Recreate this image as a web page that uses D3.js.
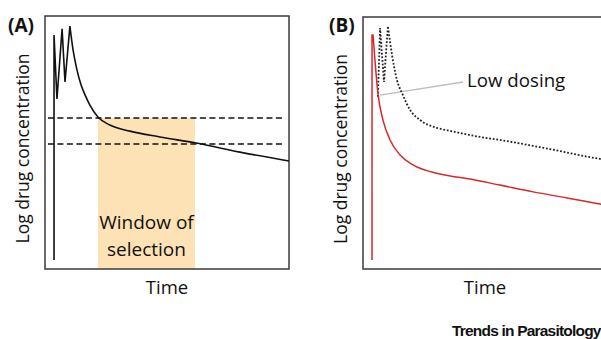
<!DOCTYPE html>
<html>
<head>
<meta charset="utf-8">
<script src="https://cdn.jsdelivr.net/npm/d3@7"></script>
<style>
  body { margin: 0; background: #fff; }
  text { font-family: 'Open Sans', sans-serif; fill: #111; }
</style>
</head>
<body>
<div id="svg"></div>
<script>
// Panel A: one drug, curve over time (time and log concentration in 0..100 units)
const timeA = [3.7, 3.7, 4.9, 7.0, 8.2, 10.2, 11.5, 13.1, 14.8, 16.4, 18.4, 21.7, 26.6, 34.8, 47.1, 61.9, 79.9, 100]
const concA = [3.6, 92.5, 67.2, 94.9, 73.9, 96.0, 86.6, 78.7, 72.7, 68.8, 64.8, 60.1, 56.9, 54.5, 52.2, 49.8, 46.2, 42.7]
const thresholds = [59.7, 49.4]
const selectionWindow = [21.7, 61.5]

// Panel B: single dose (red) vs low dosing (dotted)
const timeRed = [3.7, 3.7, 4.1, 4.9, 6.1, 8.2, 11.1, 15.2, 20.5, 31.6, 43.9, 56.1, 69.7, 83.6, 97.1, 100]
const concRed = [3.6, 92.9, 92.9, 82.9, 69.8, 59.1, 51.2, 45.2, 41.3, 37.7, 35.7, 33.3, 30.6, 28.2, 25.8, 25.2]
const timeLow = [6.1, 7.0, 8.6, 10.2, 11.9, 13.9, 16.0, 19.3, 23.4, 30.3, 35.7, 48.0, 56.1, 76.6, 97.1, 100]
const concLow = [68.3, 95.6, 74.2, 96.4, 84.9, 75.0, 69.8, 63.1, 59.1, 56.0, 54.8, 52.4, 51.2, 47.6, 43.7, 43.3]
const pointer = [[7.0, 69.0], [41.0, 74.2]]

const width = 601
const height = 339

const svg = d3.select('#svg')
  .append('svg')
    .attr('width', width)
    .attr('height', height)

const xA = d3.scaleLinear().domain([0, 100]).range([45, 289])
const yA = d3.scaleLinear().domain([0, 100]).range([269, 16])
const xB = d3.scaleLinear().domain([0, 100]).range([363, 607])
const yB = d3.scaleLinear().domain([0, 100]).range([269, 17])

function lineFor(x, y, curve) {
  return d3.line()
    .x(d => x(d[0]))
    .y(d => y(d[1]))
    .curve(curve || d3.curveLinear)
}

const smooth = d3.curveMonotoneX

// sharp dosing spikes are straight segments, the decay after the last peak is smooth
function curvePath(x, y, ts, cs, lastPeak) {
  const pts = d3.zip(ts, cs)
  return lineFor(x, y)(pts.slice(0, lastPeak + 1)) +
    lineFor(x, y, smooth)(pts.slice(lastPeak)).replace(/^M/, 'L')
}

function panel(x, y, tag, tagX) {
  // frame
  svg.append('rect')
    .attr('x', x(0)).attr('y', y(100))
    .attr('width', x(100) - x(0)).attr('height', y(0) - y(100))
    .attr('fill', 'none')
    .attr('stroke', '#3a3a3a')
    .attr('stroke-width', 1.5)

  svg.append('text')
    .attr('x', tagX).attr('y', 32)
    .style('font-weight', 'bold')
    .style('font-size', '19px')
    .text(tag)

  const midY = (y(0) + y(100)) / 2
  svg.append('text')
    .attr('transform', 'translate(' + (x(0) - 16) + ',' + (midY + 6) + ') rotate(-90)')
    .attr('text-anchor', 'middle')
    .style('font-size', '17.5px')
    .text('Log drug concentration')

  svg.append('text')
    .attr('x', x(50)).attr('y', 294)
    .attr('text-anchor', 'middle')
    .style('font-size', '18.5px')
    .text('Time')
}

// ---- Panel A
svg.append('rect')
  .attr('x', xA(selectionWindow[0]))
  .attr('y', yA(thresholds[0]))
  .attr('width', xA(selectionWindow[1]) - xA(selectionWindow[0]))
  .attr('height', yA(0) - yA(thresholds[0]))
  .attr('fill', '#fde2b5')

panel(xA, yA, '(A)', 8)

svg.selectAll('.thr')
  .data(thresholds)
  .enter().append('line')
    .attr('x1', xA(1.2)).attr('x2', xA(97.5))
    .attr('y1', d => yA(d)).attr('y2', d => yA(d))
    .attr('stroke', '#111')
    .attr('stroke-width', 1.4)
    .attr('stroke-dasharray', '6,3.5')

svg.append('path')
  .attr('fill', 'none')
  .attr('stroke', '#111')
  .attr('stroke-width', 1.6)
  .attr('stroke-linejoin', 'miter')
  .attr('d', curvePath(xA, yA, timeA, concA, 5))

const midWin = (xA(selectionWindow[0]) + xA(selectionWindow[1])) / 2
svg.append('text')
  .attr('x', midWin).attr('y', 229)
  .attr('text-anchor', 'middle')
  .style('font-size', '19px')
  .text('Window of')
svg.append('text')
  .attr('x', midWin).attr('y', 256)
  .attr('text-anchor', 'middle')
  .style('font-size', '19px')
  .text('selection')

// ---- Panel B
panel(xB, yB, '(B)', 329)

svg.append('path')
  .datum(pointer)
  .attr('fill', 'none')
  .attr('stroke', '#bdbdbd')
  .attr('stroke-width', 1.3)
  .attr('d', lineFor(xB, yB))

svg.append('path')
  .attr('fill', 'none')
  .attr('stroke', '#222')
  .attr('stroke-width', 1.8)
  .attr('stroke-dasharray', '1.8,1.8')
  .attr('d', curvePath(xB, yB, timeLow, concLow, 3))

svg.append('path')
  .attr('fill', 'none')
  .attr('stroke', '#d42a2a')
  .attr('stroke-width', 1.5)
  .attr('d', curvePath(xB, yB, timeRed, concRed, 2))

svg.append('text')
  .attr('x', xB(pointer[1][0]) + 4).attr('y', 87)
  .style('font-size', '18.7px')
  .text('Low dosing')

svg.append('text')
  .attr('x', 452).attr('y', 336)
  .style('font-family', "'Liberation Sans', Arial, sans-serif")
  .style('font-weight', 'bold')
  .style('font-size', '15.5px')
  .style('letter-spacing', '-0.8px')
  .text('Trends in Parasitology')
</script>
</body>
</html>
